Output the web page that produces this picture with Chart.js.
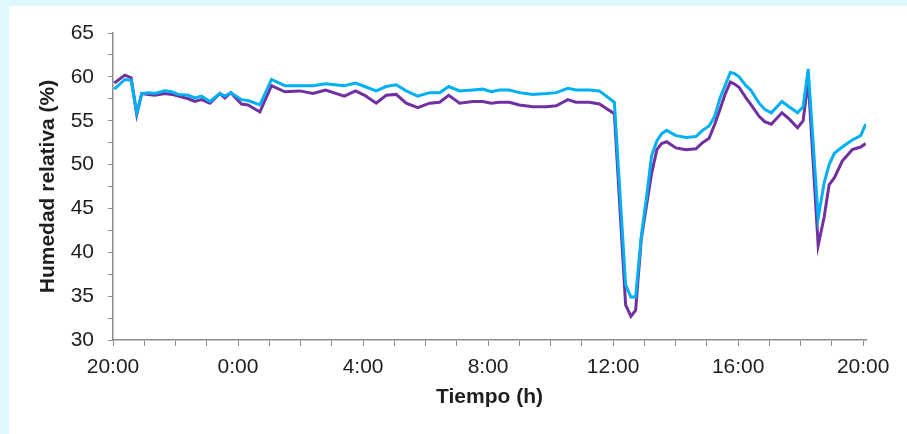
<!DOCTYPE html>
<html>
<head>
<meta charset="utf-8">
<script src="https://cdn.jsdelivr.net/npm/chart.js@4/dist/chart.umd.min.js"></script>
<style>
  html, body { margin: 0; padding: 0; }
  body { width: 907px; height: 434px; background: #dff8fd; position: relative; overflow: hidden; }
  #panel { position: absolute; left: 9px; top: 6px; width: 898px; height: 428px; background: #ffffff; }
  canvas { display: block; }
</style>
</head>
<body>
<div id="panel"><canvas id="c" width="898" height="428"></canvas></div>
<script>
// Hours elapsed since 20:00 (start of record)
const hours = [0.04, 0.38, 0.58, 0.76, 0.92, 1.13, 1.34, 1.66, 1.88, 2.09, 2.41, 2.62, 2.83, 3.10, 3.42, 3.58, 3.77, 4.11, 4.32, 4.70,
  5.07, 5.50, 5.97, 6.40, 6.80, 7.40, 7.76, 8.05, 8.42, 8.74, 9.06, 9.38, 9.75, 10.13, 10.45, 10.74, 11.09, 11.51, 11.83, 12.10,
  12.36, 12.68, 13.00, 13.43, 13.86, 14.18, 14.55, 14.81, 15.24, 15.56, 16.04, 16.40, 16.57, 16.72, 16.90, 17.07, 17.23, 17.40, 17.55, 17.71,
  18.01, 18.33, 18.65, 18.86, 19.07, 19.25, 19.42, 19.58, 19.75, 19.87, 20.03, 20.25, 20.40, 20.67, 20.85, 21.06, 21.40, 21.63, 21.90, 22.08,
  22.24, 22.56, 22.75, 22.91, 23.08, 23.33, 23.65, 23.92, 24.08];

// Cyan series (relative humidity, %)
const humedadCian = [58.6, 59.7, 59.6, 55.9, 58.1, 58.2, 58.1, 58.4, 58.3, 58.0, 57.9, 57.6, 57.8, 57.2, 58.1, 57.8, 58.2, 57.4, 57.3, 56.8,
  59.7, 59.0, 59.0, 59.0, 59.2, 59.0, 59.3, 58.9, 58.4, 58.9, 59.1, 58.4, 57.8, 58.2, 58.2, 58.9, 58.4, 58.5, 58.6, 58.3,
  58.5, 58.5, 58.2, 58.0, 58.1, 58.2, 58.7, 58.5, 58.5, 58.4, 57.1, 36.3, 34.9, 34.9, 41.8, 46.3, 51.0, 52.7, 53.5, 53.9,
  53.3, 53.1, 53.2, 53.9, 54.4, 55.5, 57.6, 59.0, 60.5, 60.4, 60.0, 59.0, 58.5, 57.0, 56.3, 55.9, 57.2, 56.6, 55.9, 56.6,
  60.9, 43.9, 47.9, 50.0, 51.3, 52.0, 52.8, 53.3, 54.6];

// Purple series (relative humidity, %)
const humedadMorado = [59.3, 60.2, 59.9, 55.7, 58.1, 58.0, 57.9, 58.1, 58.0, 57.8, 57.5, 57.2, 57.4, 57.0, 58.1, 57.6, 58.2, 56.9, 56.8, 56.0,
  59.0, 58.3, 58.4, 58.1, 58.5, 57.8, 58.4, 57.9, 57.0, 57.9, 58.0, 57.0, 56.5, 57.0, 57.1, 57.9, 57.0, 57.2, 57.2, 57.0,
  57.1, 57.1, 56.8, 56.6, 56.6, 56.7, 57.4, 57.1, 57.1, 56.9, 55.8, 34.0, 32.7, 33.4, 41.5, 45.4, 49.0, 51.7, 52.4, 52.6,
  51.9, 51.7, 51.8, 52.5, 53.0, 54.6, 56.3, 58.0, 59.4, 59.2, 58.8, 57.6, 56.9, 55.5, 54.9, 54.6, 55.9, 55.2, 54.2, 55.0,
  59.7, 40.8, 44.0, 47.7, 48.5, 50.4, 51.7, 52.0, 52.4];

const startHour = 20;
const hourTicks = [0,1,2,3,4,5,6,7,8,9,10,11,12,13,14,15,16,17,18,19,20,21,22,23,24];

function pts(vals) { return vals.map((v, i) => ({ x: hours[i], y: v })); }

const txt = '#1e1e1e';
const axisCol = '#8c8c8c';

new Chart(document.getElementById('c'), {
  type: 'line',
  data: {
    datasets: [
      { label: 'Cian', data: pts(humedadCian), borderColor: '#00b0f0', borderWidth: 3, pointRadius: 0, tension: 0, fill: false },
      { label: 'Morado', data: pts(humedadMorado), borderColor: '#7030a0', borderWidth: 3, pointRadius: 0, tension: 0, fill: false }
    ]
  },
  options: {
    responsive: false,
    animation: false,
    devicePixelRatio: 1,
    layout: { padding: { left: 0, right: 41, top: 27, bottom: 0 } },
    plugins: { legend: { display: false }, tooltip: { enabled: false } },
    scales: {
      x: {
        type: 'linear',
        min: 0,
        max: 24.09,
        afterBuildTicks: (s) => { s.ticks = hourTicks.map(v => ({ value: v })); },
        afterFit: (s) => { s.height = 94; },
        grid: { display: true, drawOnChartArea: false, drawTicks: true, tickLength: 6, color: axisCol, lineWidth: 1 },
        border: { display: true, color: axisCol, width: 1.5 },
        ticks: {
          autoSkip: false, maxRotation: 0, minRotation: 0, padding: 9,
          color: txt,
          font: { family: 'Liberation Sans', size: 21 },
          callback: (v) => (v % 4 === 0 ? ((startHour + v) % 24) + ':00' : '')
        },
        title: {
          display: true, text: 'Tiempo (h)', color: txt,
          font: { family: 'Liberation Sans', size: 21, weight: 'bold' },
          padding: { top: 0, bottom: 24 }
        }
      },
      y: {
        min: 30,
        max: 65,
        afterFit: (s) => { s.width = 104; },
        grid: { display: true, drawOnChartArea: false, drawTicks: true, tickLength: 5, color: axisCol, lineWidth: 1 },
        border: { display: true, color: axisCol, width: 1.5 },
        ticks: {
          stepSize: 2.5, autoSkip: false, padding: 14,
          color: txt,
          font: { family: 'Liberation Sans', size: 21 },
          callback: (v) => (v % 5 === 0 ? String(v) : '')
        },
        title: {
          display: true, text: 'Humedad relativa (%)', color: txt,
          font: { family: 'Liberation Sans', size: 21, weight: 'bold' },
          padding: { top: 27, bottom: 0 }
        }
      }
    }
  }
});
</script>
</body>
</html>
